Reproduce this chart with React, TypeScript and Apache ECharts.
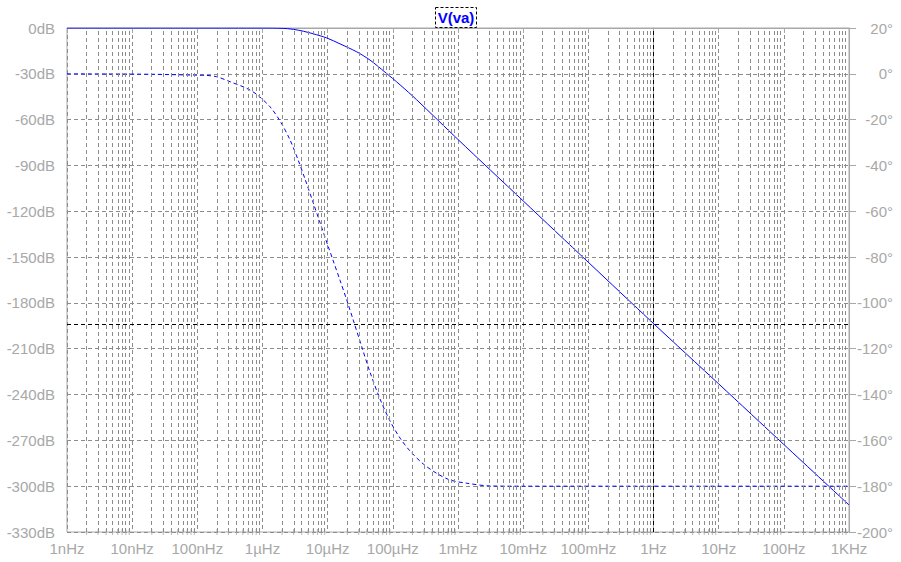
import React, { useEffect, useRef } from "react";
import * as echarts from "echarts";

// Frequency tick labels (one per decade, 1nHz .. 1KHz)
const freqLabels = [
  "1nHz", "10nHz", "100nHz", "1µHz", "10µHz", "100µHz",
  "1mHz", "10mHz", "100mHz", "1Hz", "10Hz", "100Hz", "1KHz",
];

// Magnitude trace (solid), frequency in Hz, value in dB
const magFreq = [
  1e-9, 1e-7, 1e-6, 2e-6, 2.96e-6, 4.23e-6, 6.02e-6, 9.66e-6, 1.55e-5,
  2.79e-5, 4.46e-5, 7.58e-5, 1.29e-4, 2.32e-4, 1e-3, 1e-2, 1e-1, 1, 10, 100, 1000,
];
const magDb = [
  0, 0, 0, -0.2, -0.85, -2.1, -3.8, -6.5, -10.4,
  -15.6, -21.0, -28.9, -37.2, -47.0, -73.0, -113.2, -153.4, -193.5, -233, -272.7, -312.3,
];

// Phase trace (dashed), frequency in Hz, value in degrees
const phaseFreq = [
  1e-9, 2e-8, 1e-7, 1.39e-7, 1.98e-7, 3.17e-7, 5.71e-7, 8.15e-7, 1.3e-6,
  1.85e-6, 2.64e-6, 3.54e-6, 4.49e-6, 6.02e-6, 7.62e-6, 1.02e-5,
  1.22e-5, 1.55e-5, 1.96e-5, 2.47e-5, 3.33e-5, 4.46e-5, 6.35e-5, 9.04e-5,
  1.29e-4, 1.83e-4, 2.93e-4, 4.71e-4, 7.54e-4, 1.36e-3, 3.1e-3, 1e-2, 1000,
];
const phaseDeg = [
  0, -0.2, -0.6, -0.7, -1.26, -3.44, -6.32, -9.0, -14.35,
  -20.5, -28.8, -37.8, -45.9, -56.4, -64.9, -75.4,
  -81.7, -90.2, -98.7, -107.5, -119.1, -130.2, -141.9, -151.5,
  -159.0, -164.6, -170.3, -174.4, -177.3, -178.7, -179.9, -180, -180,
];

// Cursor position
const cursorFreq = 1;
const cursorDb = -194;

// Minor grid multipliers within each decade
const minorMults = [2, 3, 4, 5, 6, 7, 8, 9];
const decadeExps = [-9, -8, -7, -6, -5, -4, -3, -2, -1, 0, 1, 2];

const GRID = "#8c8c8c";
const FRAME = "#a8a8a8";
const LABEL = "#a8a8a8";
const BLUE = "#0000ff";
const FONT = "'Liberation Sans', Arial, sans-serif";

export default function App() {
  const ref = useRef<HTMLDivElement>(null);

  useEffect(() => {
    document.body.style.margin = "0";
    if (!ref.current) return;
    const chart = echarts.init(ref.current, null, { renderer: "svg" });

    const minorPositions: number[] = [];
    decadeExps.forEach((e) => {
      minorMults.forEach((m) => minorPositions.push(e + Math.log10(m)));
    });

    const magData = magFreq.map((f, i) => [Math.log10(f), magDb[i]]);
    const phaseData = phaseFreq.map((f, i) => [Math.log10(f), phaseDeg[i]]);

    const option: any = {
      animation: false,
      backgroundColor: "#ffffff",
      grid: {
        left: 67,
        right: 52,
        top: 28,
        bottom: 30,
        show: true,
        borderColor: FRAME,
        borderWidth: 1,
        backgroundColor: "transparent",
      },
      xAxis: {
        type: "value",
        min: -9,
        max: 3,
        interval: 1,
        axisLine: { show: true, lineStyle: { color: FRAME, width: 1 } },
        axisTick: { show: true, inside: false, length: 5, lineStyle: { color: FRAME } },
        splitLine: { show: true, lineStyle: { color: GRID, type: [4, 3], width: 1 } },
        axisLabel: {
          margin: 9,
          color: LABEL,
          fontSize: 15,
          fontFamily: FONT,
          formatter: (v: number) => freqLabels[Math.round(v + 9)] ?? "",
        },
      },
      yAxis: [
        {
          type: "value",
          min: -330,
          max: 0,
          interval: 30,
          position: "left",
          axisLine: { show: true, lineStyle: { color: FRAME } },
          axisTick: { show: true, length: 9, lineStyle: { color: FRAME } },
          splitLine: { show: true, lineStyle: { color: GRID, type: [4, 3], width: 1 } },
          axisLabel: {
            margin: 12,
            color: LABEL,
            fontSize: 15,
            fontFamily: FONT,
            formatter: (v: number) => `${v}dB`,
          },
        },
        {
          type: "value",
          min: -200,
          max: 20,
          interval: 20,
          position: "right",
          axisLine: { show: true, lineStyle: { color: FRAME } },
          axisTick: { show: true, length: 7, lineStyle: { color: FRAME } },
          splitLine: { show: false },
          axisLabel: {
            margin: 44,
            align: "right",
            color: LABEL,
            fontSize: 15,
            fontFamily: FONT,
            formatter: (v: number) => `${v}°`,
          },
        },
      ],
      graphic: [
        {
          type: "rect",
          shape: { x: 435.5, y: 7.5, width: 41, height: 20 },
          style: { fill: "transparent", stroke: "#000", lineWidth: 1, lineDash: [3, 2] },
        },
        {
          type: "text",
          x: 456,
          y: 17.5,
          style: {
            text: "V(va)",
            fill: BLUE,
            font: `bold 15px ${FONT}`,
            textAlign: "center",
            textVerticalAlign: "middle",
          },
        },
      ],
      series: [
        {
          // minor grid lines (log-spaced)
          type: "line",
          data: [],
          silent: true,
          z: 1,
          markLine: {
            silent: true,
            symbol: "none",
            label: { show: false },
            animation: false,
            lineStyle: { color: GRID, type: [4, 3], width: 1 },
            data: minorPositions.map((v) => ({ xAxis: v })),
          },
        },
        {
          // minor ticks on the frequency axis
          type: "scatter",
          data: minorPositions.map((v) => [v, -330]),
          symbol: "rect",
          symbolSize: [1, 6],
          itemStyle: { color: FRAME },
          silent: true,
          z: 1,
        },
        {
          name: "V(va) phase",
          type: "line",
          yAxisIndex: 1,
          data: phaseData,
          showSymbol: false,
          symbol: "none",
          smooth: 0.3,
          lineStyle: { color: BLUE, width: 1, type: [4, 3] },
          z: 3,
        },
        {
          name: "V(va)",
          type: "line",
          yAxisIndex: 0,
          data: magData,
          showSymbol: false,
          symbol: "none",
          smooth: 0.3,
          lineStyle: { color: BLUE, width: 1 },
          z: 4,
          markLine: {
            silent: true,
            symbol: "none",
            label: { show: false },
            animation: false,
            lineStyle: { color: "#000", type: [4, 3], width: 1 },
            data: [{ xAxis: Math.log10(cursorFreq) }, { yAxis: cursorDb }],
          },
        },
      ],
    };

    chart.setOption(option);
    return () => chart.dispose();
  }, []);

  return <div ref={ref} style={{ width: 901, height: 562 }} />;
}
